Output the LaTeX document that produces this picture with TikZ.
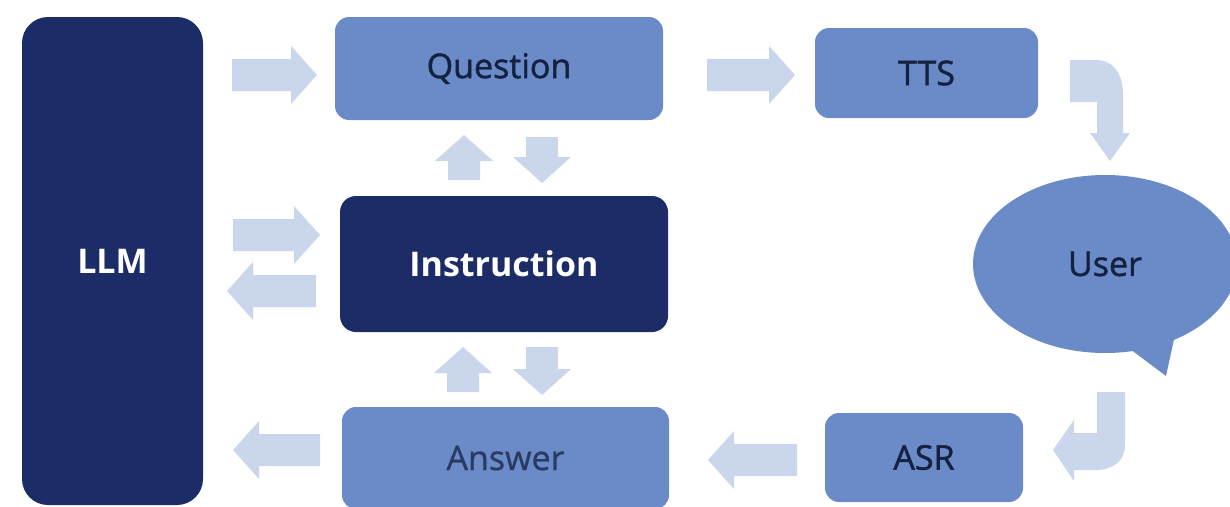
\documentclass[tikz,border=0pt]{standalone}
\usepackage{fontspec}
\setmainfont{Open Sans}
\newfontfamily\semibold{Open Sans}[FakeBold=1.3]
\newfontfamily\semiboldb{Open Sans}[FakeBold=0.8]
\usetikzlibrary{shapes.geometric}
\definecolor{navy}{HTML}{1B2C66}
\definecolor{midblue}{HTML}{6A8BC7}
\definecolor{lightarrow}{HTML}{C9D6EC}
\definecolor{txtdark}{HTML}{14213F}
\definecolor{txtgray}{HTML}{2A3B63}
\newcommand\blk[4]{%
\fill[blockarrow,shift={(#1,#2)},rotate=#3] (0,-16) -- ({#4-26},-16) -- ({#4-26},-29) -- (#4,0) -- ({#4-26},29) -- ({#4-26},16) -- (0,16) -- cycle;}
\begin{document}
\begin{tikzpicture}[x=1pt,y=-1pt,
  box/.style={rounded corners=14pt, fill=midblue, text=txtdark, font=\semibold\fontsize{34}{40}\selectfont, inner sep=0pt},
  darkbox/.style={rounded corners=16pt, fill=navy, text=white, font=\bfseries\fontsize{34}{40}\selectfont, inner sep=0pt},
  blockarrow/.style={fill=lightarrow}]
\useasboundingbox (0,0) rectangle (1230,506);
\clip (0,0) rectangle (1230,506);
% boxes
\node[darkbox, rounded corners=26pt, minimum width=181pt, minimum height=488pt] (llm) at (112.5,261) {LLM};
\node[box, minimum width=328pt, minimum height=103pt] (question) at (499,68.5) {Question};
\node[box, minimum width=223pt, minimum height=90pt] (tts) at (926.5,73) {TTS};
\node[darkbox, minimum width=328pt, minimum height=136pt] (instr) at (504,264) {Instruction};
\node[box, text=txtgray, font=\semiboldb\fontsize{34}{40}\selectfont, minimum width=327pt, minimum height=102pt] (answer) at (505.5,458) {Answer};
\node[box, minimum width=198pt, minimum height=89pt] (asr) at (924,457.5) {ASR};
% user bubble
\fill[midblue] (1126,346) -- (1166,376) -- (1176,330) -- cycle;
\node[ellipse, fill=midblue, text=txtdark, font=\semibold\fontsize{34}{40}\selectfont, minimum width=264pt, minimum height=178pt, inner sep=0pt] (user) at (1105,264) {User};
% straight block arrows
\blk{232}{75}{0}{85}
\blk{707}{75}{0}{88}
\blk{464}{180}{90}{45}
\blk{542}{137}{270}{46}
\blk{233}{235}{0}{87}
\blk{316}{291}{180}{89}
\blk{463}{392}{90}{45}
\blk{542}{347}{270}{48}
\blk{320}{450}{180}{87}
\blk{797}{460}{180}{89}
% bent arrows
\fill[blockarrow] (1070,60) -- (1095,60) .. controls (1114,60) and (1123,74) .. (1123,95) -- (1123,133) -- (1130,133) -- (1110,161) -- (1090,133) -- (1097,133) -- (1097,102) -- (1070,102) -- cycle;
\fill[blockarrow] (1097,392) -- (1125,392) -- (1125,445) .. controls (1125,462) and (1112,470) .. (1095,470) -- (1074,470) -- (1074,481) -- (1053,450) -- (1074,420) -- (1074,433) -- (1097,433) -- cycle;
\end{tikzpicture}
\end{document}
